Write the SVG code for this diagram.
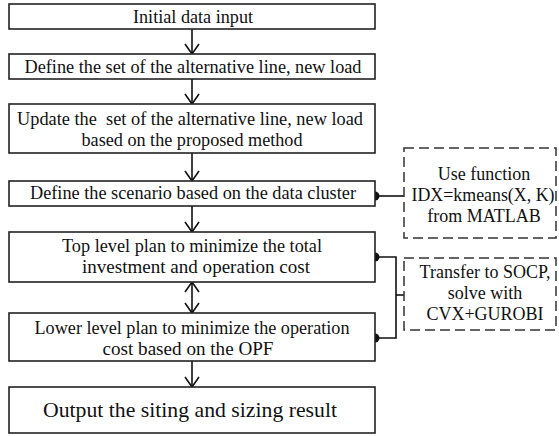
<svg xmlns="http://www.w3.org/2000/svg" width="559" height="436" viewBox="0 0 559 436">
  <style>
    .box { fill: #ffffff; stroke: #222222; stroke-width: 1.6; }
    .note { fill: #ffffff; stroke: #333333; stroke-width: 1.5; stroke-dasharray: 10 5; }
    text { font-family: 'Liberation Serif', 'Times New Roman', Times, serif; font-size: 18px; fill: #111111; text-anchor: middle; }
    .big { font-size: 22px; }
    .line { fill: none; stroke: #111111; stroke-width: 1.6; }
    .dot { fill: #111111; }
  </style>
  <defs>
    <!-- open V arrowhead, drawn along +x so orient="auto" turns it with the line -->
    <marker id="head" viewBox="0 0 12 16" refX="11" refY="8" markerWidth="12" markerHeight="16" markerUnits="userSpaceOnUse" orient="auto-start-reverse">
      <path d="M1,1 L11,8 L1,15" fill="none" stroke="#111111" stroke-width="1.6"/>
    </marker>
  </defs>
  <rect width="559" height="436" fill="#ffffff"/>

  <!-- flow connectors -->
  <g id="connectors">
    <line class="line" x1="192" y1="29" x2="192" y2="54" marker-end="url(#head)"/>
    <line class="line" x1="192" y1="79" x2="192" y2="104" marker-end="url(#head)"/>
    <line class="line" x1="192" y1="153" x2="192" y2="181" marker-end="url(#head)"/>
    <line class="line" x1="192" y1="206" x2="192" y2="232" marker-end="url(#head)"/>
    <line class="line" x1="192" y1="282" x2="192" y2="313" marker-start="url(#head)" marker-end="url(#head)"/>
    <line class="line" x1="192" y1="361" x2="192" y2="387" marker-end="url(#head)"/>
    <!-- side links to the tool notes -->
    <line class="line" x1="375" y1="196" x2="404" y2="196"/>
    <polyline class="line" points="375,257 396,257 396,338 375,338"/>
    <line class="line" x1="396" y1="295" x2="404" y2="295"/>
    <circle class="dot" cx="375" cy="196" r="4.5"/>
    <circle class="dot" cx="375" cy="257" r="4.5"/>
    <circle class="dot" cx="375" cy="338" r="4.5"/>
  </g>

  <g id="input">
    <rect class="box" x="9" y="4" width="366" height="25"/>
    <text x="193" y="23" textLength="120" lengthAdjust="spacingAndGlyphs">Initial data input</text>
  </g>

  <g id="define-set">
    <rect class="box" x="9" y="54" width="366" height="25"/>
    <text x="193" y="73" textLength="337" lengthAdjust="spacingAndGlyphs">Define the set of the alternative line, new load</text>
  </g>

  <g id="update-set">
    <rect class="box" x="9" y="104" width="366" height="49"/>
    <text x="190" y="125" xml:space="preserve" textLength="346" lengthAdjust="spacingAndGlyphs">Update the  set of the alternative line, new load</text>
    <text x="192" y="146" textLength="221" lengthAdjust="spacingAndGlyphs">based on the proposed method</text>
  </g>

  <g id="scenario">
    <rect class="box" x="9" y="181" width="366" height="25"/>
    <text x="193" y="199" textLength="326" lengthAdjust="spacingAndGlyphs">Define the scenario based on the data cluster</text>
  </g>

  <g id="top-level">
    <rect class="box" x="9" y="232" width="366" height="50"/>
    <text x="192" y="252" textLength="260" lengthAdjust="spacingAndGlyphs">Top level plan to minimize the total</text>
    <text x="196" y="273" textLength="228" lengthAdjust="spacingAndGlyphs">investment and operation cost</text>
  </g>

  <g id="lower-level">
    <rect class="box" x="9" y="313" width="366" height="48"/>
    <text x="192" y="334" textLength="315" lengthAdjust="spacingAndGlyphs">Lower level plan to minimize the operation</text>
    <text x="188" y="355" textLength="171" lengthAdjust="spacingAndGlyphs">cost based on the OPF</text>
  </g>

  <g id="output">
    <rect class="box" x="9" y="387" width="366" height="46"/>
    <text class="big" x="190" y="417" textLength="294" lengthAdjust="spacingAndGlyphs">Output the siting and sizing result</text>
  </g>

  <g id="kmeans-note">
    <rect class="note" x="404" y="148" width="152" height="90"/>
    <text x="484" y="180">Use function</text>
    <text x="483" y="201" textLength="143" lengthAdjust="spacingAndGlyphs">IDX=kmeans(X, K)</text>
    <text x="484" y="222">from MATLAB</text>
  </g>

  <g id="solver-note">
    <rect class="note" x="404" y="258" width="152" height="72"/>
    <text x="485" y="278">Transfer to SOCP,</text>
    <text x="485" y="299">solve with</text>
    <text x="485" y="320">CVX+GUROBI</text>
  </g>
</svg>
